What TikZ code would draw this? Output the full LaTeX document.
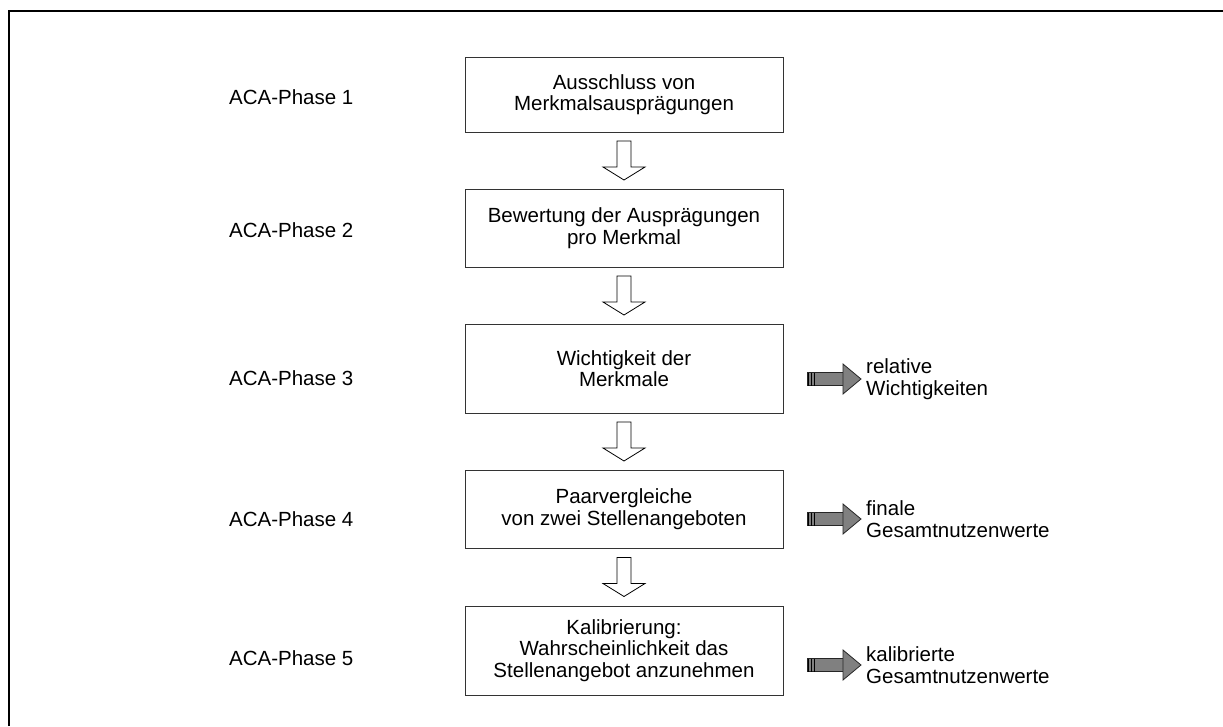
\documentclass[tikz,border=0pt]{standalone}
\usepackage{fontspec}
\setmainfont{Liberation Sans}
\usetikzlibrary{calc}
\tikzset{
  hollowdown/.pic={
    \draw[line width=0.8pt, fill=white, line join=miter]
      (-7,-19.5) -- (7,-19.5) -- (7,6.5) -- (21,6.5) -- (0,19.5) -- (-21,6.5) -- (-7,6.5) -- cycle;
  },
  grayright/.pic={
    \draw[line width=0.8pt, draw=black!85, fill=black!50] (0,-6.5) rectangle (36,6.5);
    \draw[line width=0.8pt, draw=black!85, fill=black!50, line join=miter]
      (36,-15) -- (54,0) -- (36,15) -- cycle;
    \foreach \xx in {1.5,4.5,7.5} \draw[line width=1.2pt, black] (\xx,-6.5) -- (\xx,6.5);
  }
}
\begin{document}
\begin{tikzpicture}[x=1pt,y=-1pt,
  every node/.style={font=\fontsize{20.5}{21.5}\selectfont},
  stepbox/.style={draw=black!80, line width=1pt, fill=white, minimum width=318pt, align=center, inner sep=0pt},
  phase/.style={anchor=west, inner sep=0pt},
  result/.style={anchor=west, align=left, inner sep=0pt}]
\useasboundingbox (0,0) rectangle (1223,726);
\draw[line width=2pt] (8.5,726) -- (8.5,11) -- (1223,11);

\node[stepbox, minimum height=75pt] (b1) at (624,94.5) {Ausschluss von\\Merkmalsausprägungen};
\node[stepbox, minimum height=78pt] (b2) at (624,228) {Bewertung der Ausprägungen\\pro Merkmal};
\node[stepbox, minimum height=89pt] (b3) at (624,368.5) {Wichtigkeit der\\Merkmale};
\node[stepbox, minimum height=78pt] (b4) at (624,509) {Paarvergleiche\\von zwei Stellenangeboten};
\node[stepbox, minimum height=89pt] (b5) at (624,650.5) {Kalibrierung:\\Wahrscheinlichkeit das\\Stellenangebot anzunehmen};

\node[phase] (p1) at (229,97) {ACA-Phase 1};
\node[phase] (p2) at (229,230) {ACA-Phase 2};
\node[phase] (p3) at (229,378) {ACA-Phase 3};
\node[phase] (p4) at (229,519) {ACA-Phase 4};
\node[phase] (p5) at (229,658) {ACA-Phase 5};

\pic at ($(b1.south)!0.5!(b2.north)$) {hollowdown};
\pic at ($(b2.south)!0.5!(b3.north)$) {hollowdown};
\pic at ($(b3.south)!0.5!(b4.north)$) {hollowdown};
\pic at ($(b4.south)!0.5!(b5.north)$) {hollowdown};

\coordinate (g3) at (807,379);
\coordinate (g4) at (807,519);
\coordinate (g5) at (807,665);
\pic at (g3) {grayright};
\pic at (g4) {grayright};
\pic at (g5) {grayright};
\node[result] (r3) at ($(g3)+(59,0)$) {relative\\Wichtigkeiten};
\node[result] (r4) at ($(g4)+(59,0)$) {finale\\Gesamtnutzenwerte};
\node[result] (r5) at ($(g5)+(59,0)$) {kalibrierte\\Gesamtnutzenwerte};
\end{tikzpicture}
\end{document}
